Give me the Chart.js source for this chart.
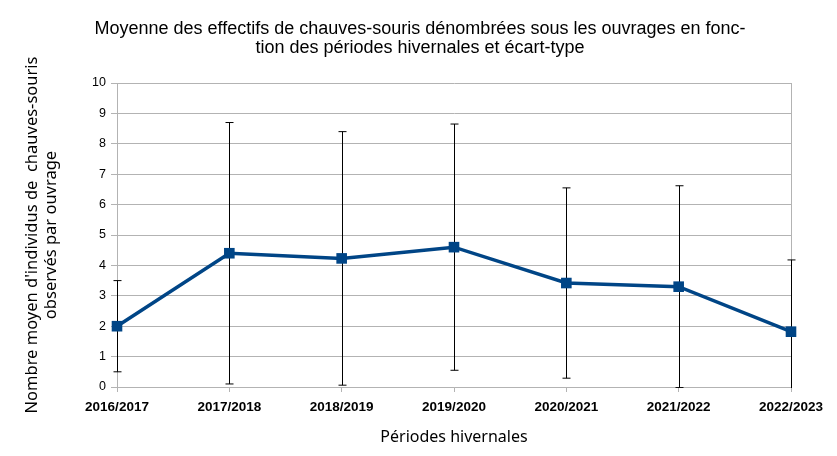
<!DOCTYPE html>
<html>
<head>
<meta charset="utf-8">
<script src="https://cdn.jsdelivr.net/npm/chart.js@4"></script>
<style>
  html, body { margin: 0; padding: 0; background: #fff; }
  #wrap { width: 837px; height: 456px; }
</style>
</head>
<body>
<div id="wrap"><canvas id="myChart" width="837" height="456"></canvas></div>
<script>
const periods = ['2016/2017', '2017/2018', '2018/2019', '2019/2020', '2020/2021', '2021/2022', '2022/2023'];
const means = [2.0, 4.4, 4.23, 4.6, 3.42, 3.3, 1.82];
const stdDevs = [1.5, 4.3, 4.17, 4.05, 3.13, 3.32, 2.36];
const yTicks = [0, 1, 2, 3, 4, 5, 6, 7, 8, 9, 10];
const titleLines = ['Moyenne des effectifs de chauves-souris dénombrées sous les ouvrages en fonc-',
                    'tion des périodes hivernales et écart-type'];

const gridColor = '#b3b3b3';
const lineColor = '#004586';

// title centred over the page, not over the padded chart box
const chartTitle = {
    id: 'chartTitle',
    afterDraw(chart) {
        const {ctx} = chart;
        ctx.save();
        ctx.fillStyle = '#000';
        ctx.font = '18px "Liberation Sans", Arial, sans-serif';
        ctx.textAlign = 'center';
        ctx.textBaseline = 'middle';
        titleLines.forEach((line, i) => ctx.fillText(line, 420, 29 + i * 19.5));
        ctx.restore();
    }
};

// right border + error bars (mean +/- standard deviation), drawn under the line
const errorBars = {
    id: 'errorBars',
    beforeDatasetsDraw(chart) {
        const {ctx, chartArea, scales: {x, y}} = chart;
        ctx.save();
        ctx.strokeStyle = gridColor;
        ctx.lineWidth = 1;
        ctx.beginPath();
        ctx.moveTo(Math.round(chartArea.right) + 0.5, chartArea.top);
        ctx.lineTo(Math.round(chartArea.right) + 0.5, chartArea.bottom);
        ctx.stroke();

        ctx.beginPath();
        ctx.rect(chartArea.left - 10, chartArea.top, chartArea.width + 20, chartArea.height + 1);
        ctx.clip();
        ctx.strokeStyle = '#000';
        means.forEach((m, i) => {
            const px = Math.round(x.getPixelForValue(i)) + 0.5;
            const top = y.getPixelForValue(m + stdDevs[i]);
            const bot = y.getPixelForValue(m - stdDevs[i]);
            ctx.beginPath();
            ctx.moveTo(px, top);
            ctx.lineTo(px, bot);
            ctx.moveTo(px - 4, top);
            ctx.lineTo(px + 4, top);
            ctx.moveTo(px - 4, bot);
            ctx.lineTo(px + 4, bot);
            ctx.stroke();
        });
        ctx.restore();
    }
};

const ctx = document.getElementById('myChart');
const myChart = new Chart(ctx, {
    type: 'line',
    data: {
        labels: periods,
        datasets: [{
            label: 'Moyenne',
            data: means,
            borderColor: lineColor,
            backgroundColor: lineColor,
            borderWidth: 3.5,
            pointStyle: 'rect',
            pointRadius: 7.5,
            pointBorderWidth: 0,
            tension: 0,
            clip: false,
        }]
    },
    options: {
        responsive: false,
        animation: false,
        layout: { padding: { left: 0, right: 46, top: 83, bottom: 0 } },
        plugins: {
            legend: { display: false },
            tooltip: { enabled: false },
            title: { display: false },
        },
        scales: {
            x: {
                offset: false,
                grid: { display: true, drawOnChartArea: false, color: gridColor, tickLength: 5 },
                border: { color: gridColor },
                ticks: {
                    color: '#000',
                    padding: 7,
                    maxRotation: 0,
                    font: { family: '"Liberation Sans", Arial, sans-serif', size: 13.5, weight: 'bold' },
                },
                title: {
                    display: true,
                    text: 'Périodes hivernales',
                    color: '#000',
                    font: { family: '"Noto Sans", sans-serif', size: 16, lineHeight: 1.2 },
                    padding: { top: 4, bottom: 9 },
                },
                afterFit: s => { s.height = 69; },
            },
            y: {
                min: 0,
                max: 10,
                afterBuildTicks: s => { s.ticks = yTicks.map(v => ({ value: v })); },
                grid: { color: gridColor, tickLength: 6 },
                border: { color: gridColor },
                ticks: {
                    color: '#000',
                    padding: 5,
                    font: { family: '"Liberation Sans", Arial, sans-serif', size: 12.5 },
                },
                title: {
                    display: true,
                    text: ["Nombre moyen d'individus de  chauves-souris", 'observés par ouvrage'],
                    color: '#000',
                    font: { family: '"Noto Sans", sans-serif', size: 16.5, lineHeight: 1.2 },
                    padding: { top: 22, bottom: 0 },
                },
                afterFit: s => { s.width = 117; },
            },
        },
    },
    plugins: [errorBars, chartTitle],
});
</script>
</body>
</html>
